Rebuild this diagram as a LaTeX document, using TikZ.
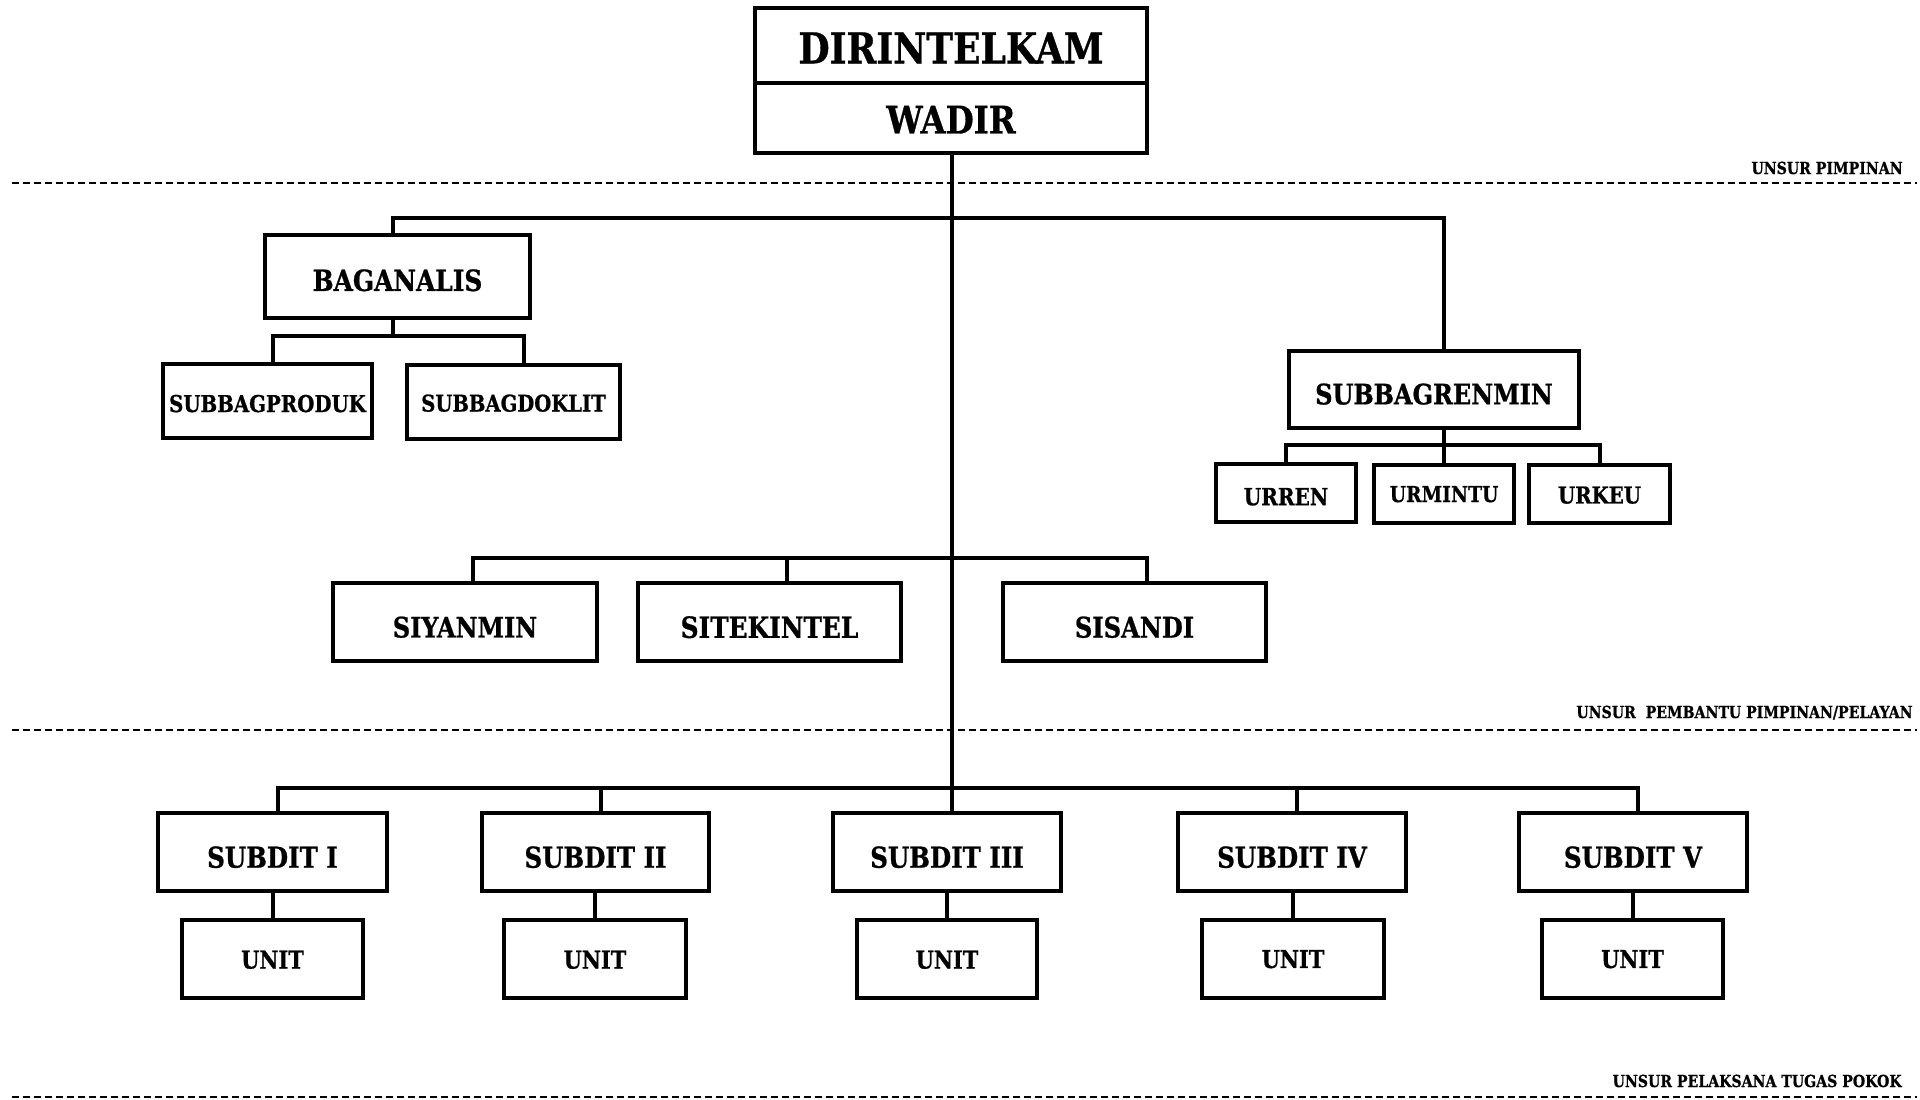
\documentclass[tikz,border=0pt]{standalone}
\usepackage{fontspec}
\newfontfamily\lbl{DejaVu Serif}[FakeStretch=0.85, BoldFeatures={FakeBold=0.8}]
\tikzset{
  box/.style={draw, line width=2pt, fill=white, inner sep=0pt, font=\lbl\bfseries},
  conn/.style={line width=2pt},
  sep/.style={line width=1.4pt, dash pattern=on 3.5pt off 2pt},
  tag/.style={inner sep=0pt, font=\lbl\bfseries\fontsize{8.3}{8.3}\selectfont}
}
\newcommand\orgbox[8]{\node[box,minimum width={(#4-#2)*0.5},minimum height={(#5-#3)*0.5}] (#1) at ({(#2+#4)/2},{(#3+#5)/2}) {\raisebox{-#8pt}[\height][0pt]{\fontsize{#6}{#6}\selectfont #7}};}
\begin{document}
\begin{tikzpicture}[x=0.5pt,y=-0.5pt]
\useasboundingbox (0,0) rectangle (1920,1099);
% separators
\coordinate (s1a) at (12,183); \coordinate (s1b) at (1917,183);
\coordinate (s2a) at (12,730); \coordinate (s2b) at (1917,730);
\coordinate (s3a) at (12,1097); \coordinate (s3b) at (1917,1097);
\draw[sep] (s1a) -- (s1b);
\draw[sep] (s2a) -- (s2b);
\draw[sep] (s3a) -- (s3b);
\node[tag, anchor=base east] (t1) at (1903,174) {UNSUR PIMPINAN};
\node[tag, anchor=base east] (t2) at (1913,718) {UNSUR\ \ PEMBANTU PIMPINAN/PELAYAN};
\node[tag, anchor=base east] (t3) at (1902,1087) {UNSUR PELAKSANA TUGAS POKOK};
% top
\orgbox{dir}{755}{8}{1147}{83}{21.2}{DIRINTELKAM}{1.2}
\orgbox{wadir}{755}{83}{1147}{153}{19}{WADIR}{0.8}
% level 1
\orgbox{bag}{265}{235}{530}{318}{14.6}{BAGANALIS}{1.8}
\orgbox{prod}{163}{364}{372}{438}{11.6}{SUBBAGPRODUK}{1.2}
\orgbox{dok}{407}{365}{620}{439}{11.5}{SUBBAGDOKLIT}{0.5}
\orgbox{ren}{1289}{351}{1579}{428}{14.1}{SUBBAGRENMIN}{2.2}
\orgbox{urren}{1216}{464}{1356}{522}{11.8}{URREN}{1.8}
\orgbox{urmin}{1374}{465}{1514}{523}{11}{URMINTU}{0}
\orgbox{urkeu}{1529}{465}{1670}{523}{11.6}{URKEU}{0.5}
\orgbox{siy}{333}{583}{597}{661}{14.1}{SIYANMIN}{2.5}
\orgbox{sit}{638}{583}{901}{661}{14.6}{SITEKINTEL}{2.5}
\orgbox{sis}{1003}{583}{1266}{661}{14.2}{SISANDI}{2.5}
% subdits
\orgbox{sd1}{158}{813}{387}{891}{14.4}{SUBDIT I}{2.5}
\orgbox{sd2}{482}{813}{709}{891}{14.4}{SUBDIT II}{2.5}
\orgbox{sd3}{833}{813}{1061}{891}{14.4}{SUBDIT III}{2.5}
\orgbox{sd4}{1178}{813}{1406}{891}{14.4}{SUBDIT IV}{2.5}
\orgbox{sd5}{1519}{813}{1747}{891}{14.4}{SUBDIT V}{2.5}
\orgbox{u1}{182}{920}{363}{998}{12.3}{UNIT}{0.3}
\orgbox{u2}{504}{920}{686}{998}{12.3}{UNIT}{0.3}
\orgbox{u3}{857}{920}{1037}{998}{12.3}{UNIT}{0.3}
\orgbox{u4}{1202}{920}{1384}{998}{12.3}{UNIT}{0}
\orgbox{u5}{1542}{920}{1723}{998}{12.3}{UNIT}{0}
% bus levels
\coordinate (b1) at (0,218);
\coordinate (b2) at (0,336);
\coordinate (b3) at (0,445);
\coordinate (b4) at (0,558);
\coordinate (b5) at (0,788);
\coordinate (tr) at (952,0);
% trunk
\draw[conn] (wadir.south -| tr) -- (sd3.north -| tr);
% level 1 bus
\draw[conn] ([xshift=-2.5pt]bag.north) |- ([xshift=-2.5pt]bag.north |- b1) -- ([xshift=5pt]ren.north |- b1) -- ([xshift=5pt]ren.north);
% baganalis children
\draw[conn] ([xshift=-2.5pt]bag.south) -- ([xshift=-2.5pt]bag.south |- b2);
\draw[conn] ([xshift=2.5pt]prod.north) |- ([xshift=2.5pt]prod.north |- b2) -- ([xshift=5pt]dok.north |- b2) -- ([xshift=5pt]dok.north);
% subbagrenmin children
\draw[conn] ([xshift=5pt]ren.south) -- ([xshift=5pt]ren.south |- b3);
\draw[conn] (urren.north) -- (urren.north |- b3) -- (urkeu.north |- b3) -- (urkeu.north);
\draw[conn] (urmin.north |- b3) -- (urmin.north);
% middle bus
\draw[conn] ([xshift=4pt]siy.north) -- ([xshift=4pt]siy.north |- b4) -- ([xshift=6pt]sis.north |- b4) -- ([xshift=6pt]sis.north);
\draw[conn] ([xshift=8.5pt]sit.north |- b4) -- ([xshift=8.5pt]sit.north);
% bottom bus
\draw[conn] ([xshift=2.5pt]sd1.north) -- ([xshift=2.5pt]sd1.north |- b5) -- ([xshift=2.5pt]sd5.north |- b5) -- ([xshift=2.5pt]sd5.north);
\draw[conn] ([xshift=2.5pt]sd2.north |- b5) -- ([xshift=2.5pt]sd2.north);
\draw[conn] ([xshift=2.5pt]sd4.north |- b5) -- ([xshift=2.5pt]sd4.north);
% units
\draw[conn] (sd1.south -| u1.north) -- (u1.north);
\draw[conn] (sd2.south -| u2.north) -- (u2.north);
\draw[conn] (sd3.south -| u3.north) -- (u3.north);
\draw[conn] (sd4.south -| u4.north) -- (u4.north);
\draw[conn] (sd5.south -| u5.north) -- (u5.north);
\end{tikzpicture}
\end{document}
